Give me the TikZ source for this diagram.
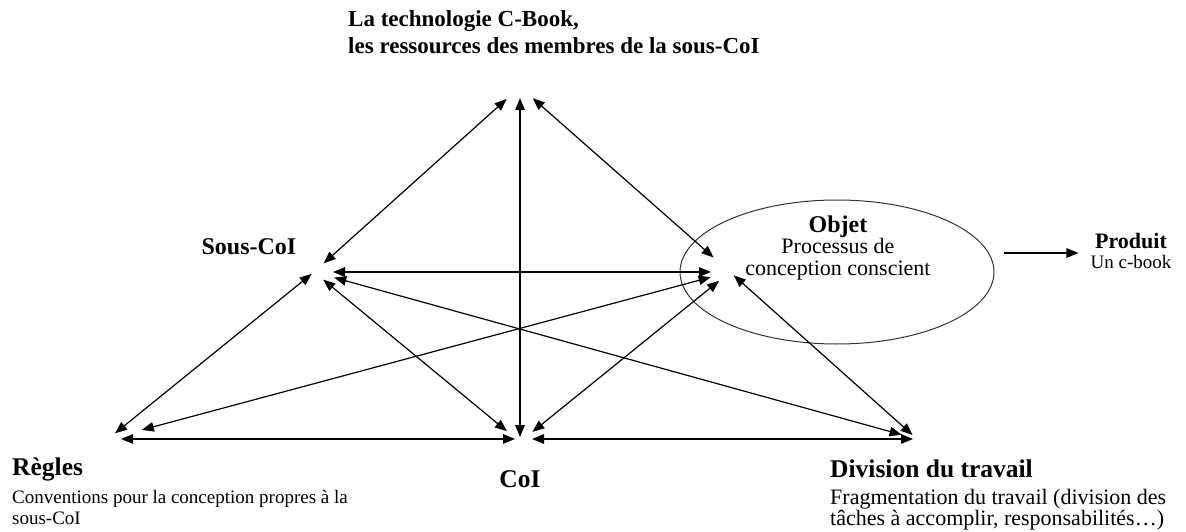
\documentclass[tikz,border=0pt]{standalone}
\usepackage{fontspec}
\setmainfont{Liberation Serif}
\usetikzlibrary{arrows.meta,positioning,calc,shapes.geometric}
\tikzset{
  link/.style={{Triangle[length=12pt,width=9.5pt]}-{Triangle[length=12pt,width=9.5pt]},line width=1.2pt},
  flow/.style={-{Triangle[length=12pt,width=9.5pt]},line width=1.2pt},
  title/.style={font=\fontsize{24}{28}\selectfont\bfseries,inner sep=0pt},
  desc/.style={font=\fontsize{21}{23}\selectfont,align=left,inner sep=0pt},
}
\begin{document}
\begin{tikzpicture}[x=1pt,y=-1pt]
\useasboundingbox (0,0) rectangle (1186,532);
%vertices
\coordinate (vT) at (520,87);
\coordinate (vS) at (314,272);
\coordinate (vO) at (730,272);
\coordinate (vR) at (108,439);
\coordinate (vC) at (520,442);
\coordinate (vD) at (917,439);
%object ellipse
\node[ellipse,draw,line width=1pt,black!80,minimum width=314pt,minimum height=144pt,inner sep=0pt] (ell) at (837,272) {};
%links between the poles
\draw[link,shorten <=18pt,shorten >=13pt] (vT) -- (vS);
\draw[link,shorten <=11pt,shorten >=5pt] (vT) -- (vC);
\draw[link,shorten <=17pt,shorten >=22pt] (vT) -- (vO);
\draw[link,shorten <=19pt,shorten >=19pt] (vS) -- (vO);
\draw[link,shorten <=3pt,shorten >=9pt] (vS) -- (vR);
\draw[link,shorten <=12pt,shorten >=17pt] (vS) -- (vC);
\draw[link,shorten <=21pt,shorten >=16pt] (vS) -- (vD);
\draw[link,shorten <=20pt,shorten >=35pt] (vO) -- (vR);
\draw[link,shorten <=14pt,shorten >=16pt] (vO) -- (vC);
\draw[link,shorten <=5pt,shorten >=6pt] (vO) -- (vD);
\draw[link,shorten <=13pt,shorten >=5pt] (vR) -- (vC |- vR);
\draw[link,shorten <=12pt,shorten >=4pt] (vC |- vD) -- (vD);
%labels
\node[title,align=left,anchor=north west,font=\fontsize{23}{27}\selectfont\bfseries] (tech) at (348,10) {La technologie C-Book,\\les ressources des membres de la sous-CoI};
\node[title] (souscoi) at (249,247) {Sous-CoI};
\node[title] (objet) at (838,227) {Objet};
\node[desc,align=center,font=\fontsize{22}{22}\selectfont] (objdesc) at (838,259) {Processus de\\conception conscient};
\node[title,font=\fontsize{22}{26}\selectfont\bfseries] (produit) at (1131,241) {Produit};
\node[desc,font=\fontsize{19}{21}\selectfont] (prodesc) at (1131,262) {Un c-book};
\coordinate (pout) at ($(ell.east)+(9,-19)$);
\draw[flow,shorten >=12pt] (pout) -- (pout -| prodesc.west);
\node[title,anchor=west,font=\fontsize{25.5}{28}\selectfont\bfseries] (regles) at (12,469) {Règles};
\node[desc,anchor=north west,font=\fontsize{19}{21}\selectfont] (regdesc) at (12,490) {Conventions pour la conception propres à la\\sous-CoI};
\node[title,font=\fontsize{25.5}{28}\selectfont\bfseries] (coi) at (520,479) {CoI};
\node[title,anchor=west,font=\fontsize{25.5}{28}\selectfont\bfseries] (division) at (830,469) {Division du travail};
\node[desc,anchor=north west,font=\fontsize{22}{21}\selectfont] (divdesc) at (830,489) {Fragmentation du travail (division des\\tâches à accomplir, responsabilités…)};
\end{tikzpicture}
\end{document}
